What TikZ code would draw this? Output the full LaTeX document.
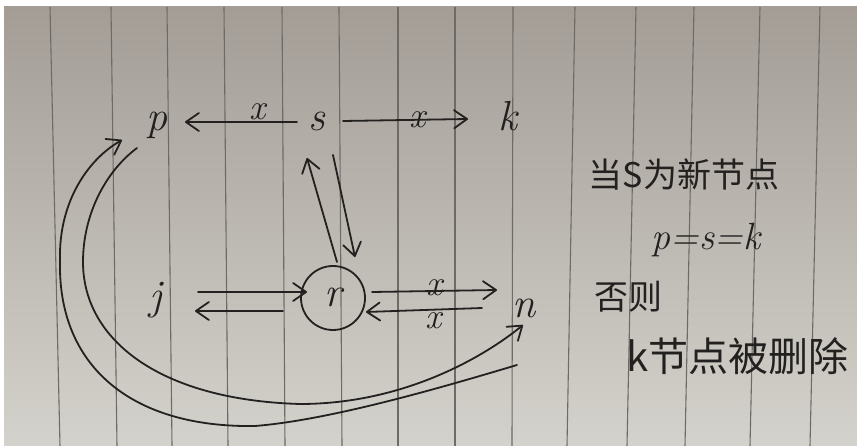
\documentclass[tikz,border=0pt]{standalone}
\usepackage{fontspec}
\newfontfamily\cjk{Noto Sans CJK SC}
\usepackage{tikz}
\usetikzlibrary{arrows.meta,calc}
\definecolor{ink}{RGB}{34,33,32}
\definecolor{papertop}{RGB}{163,157,150}
\definecolor{paperbot}{RGB}{212,210,204}
\definecolor{ruling}{RGB}{110,106,101}

\begin{document}
\begin{tikzpicture}[
  x=1pt, y=-1pt,
  letter/.style={inner sep=0pt, text height=18pt, text depth=0pt,
    font=\fontsize{42}{44}\selectfont\itshape, text=ink},
  xlabel/.style={inner sep=0pt, font=\fontsize{36}{38}\selectfont\itshape, text=ink},
  note/.style={inner sep=0pt, font=\cjk\fontsize{34}{36}\selectfont, text=ink},
  link/.style={draw=ink, line width=1.8pt, line cap=round,
    -{Straight Barb[length=13pt, width=18pt, round]}},
]
\useasboundingbox (0,0) rectangle (857,446);

% paper
\fill[white] (0,0) rectangle (857,446);
\shade[top color=papertop, bottom color=paperbot] (4,7) rectangle (857,446);
\foreach \a/\b in {50/60, 111/117, 167/172, 224/228, 282/285, 339/342,
    398/398, 455/455, 513/512, 575/567, 636/627, 694/685, 760/750, 820/810}
  \draw[ruling, line width=1.1pt] (\a,7) -- (\b,446);

\node[letter] (p) at (157,122) {p};
\node[letter] (s) at (317,122) {s};
\node[letter] (k) at (508,122) {k};
\node[letter] (j) at (156,301) {j};
\node[letter, draw=ink, circle, line width=1.8pt, minimum size=64pt] (r) at (333,298) {r};
\node[letter] (n) at (524,309) {n};

\node[note] (cond) at (684,175) {当S为新节点};
\node[letter, text height=, font=\fontsize{38}{40}\selectfont\itshape] (eq) at (706,236) {p=s=k};
\node[note] (else) at (628,297) {否则};
\node[note, anchor=west, font=\cjk\fontsize{40}{42}\selectfont] (del) at (626,356) {k节点被删除};

\draw[link] ($(s)+(-20,0)$) -- node[xlabel, pos=.35, above=1pt] {x} ($(p)+(28,0)$);
\draw[link] ($(s)+(26,-1)$) -- node[xlabel, pos=.6] {x} ($(k)+(-40,-3)$);
\draw[link] ($(r)+(4,-36)$) -- ($(s)+(-10,36)$);
\draw[link] ($(s)+(16,33)$) -- ($(r)+(22,-41)$);
\draw[link] ($(j)+(42,-9)$) -- ($(r)+(-26,-6)$);
\draw[link] ($(r)+(-50,13)$) -- ($(j)+(39,10)$);
\draw[link] ($(r)+(39,-6)$) -- node[xlabel, pos=.5, yshift=3pt] {x} ($(n)+(-27,-19)$);
\draw[link] ($(n)+(-42,-1)$) -- node[xlabel, pos=.42, below=2pt] {x} ($(r)+(33,14)$);

% the two long loops between p and n
\draw[link] ($(n)+(-7,56)$) .. controls (440,388) and (330,420) .. (255,426)
  .. controls (130,428) and (58,365) .. (60,262)
  .. controls (58,200) and (90,158) .. ($(p)+(-35,18)$);
\draw[link] ($(p)+(-20,26)$) .. controls (105,172) and (83,215) .. (83,262)
  .. controls (83,340) and (160,400) .. (300,404)
  .. controls (400,404) and (480,360) .. ($(n)+(-1,16)$);
\end{tikzpicture}
\end{document}
